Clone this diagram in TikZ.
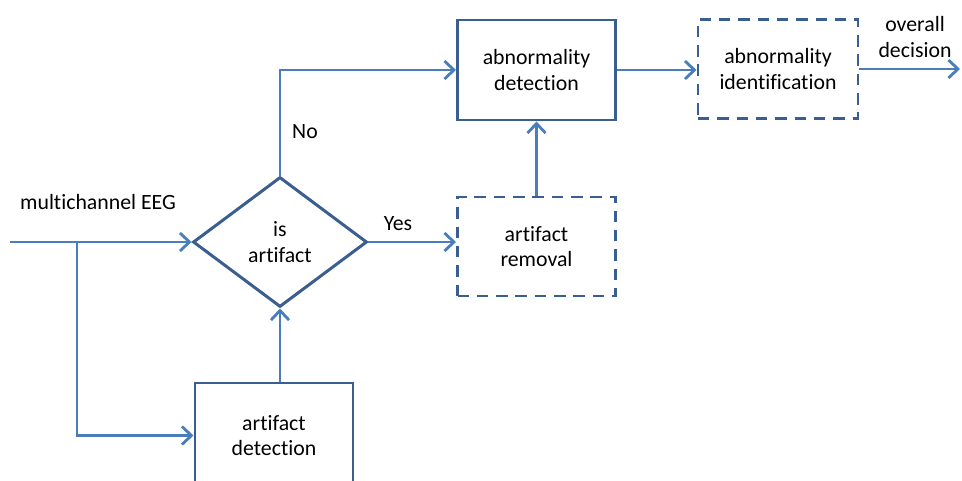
\documentclass[tikz,border=0pt]{standalone}
\usepackage{fontspec}
\setmainfont{Carlito}[Ligatures=NoCommon]
\usetikzlibrary{positioning,arrows.meta,calc,shapes.geometric}

\definecolor{boxline}{HTML}{3A5E8F}
\definecolor{flowline}{HTML}{4A7EBB}

\begin{document}
\begin{tikzpicture}[x=1cm,y=1cm, every node/.style={align=center, font=\fontsize{12.4pt}{14.6pt}\selectfont},
  box/.style={draw=boxline, line width=1.7pt, minimum width=3.16cm, minimum height=2cm, inner sep=0pt},
  dbox/.style={box, dash pattern=on 6.5pt off 4.5pt},
  decision/.style={draw=boxline, line width=1.7pt, diamond, aspect=1.34, minimum width=3.48cm, minimum height=2.6cm, inner sep=0pt},
  flow/.style={draw=flowline, line width=1.6pt, -{Straight Barb[length=1.9mm,width=3.6mm]}}]
  \useasboundingbox (0,0) rectangle (19.24,9.6);
  \clip (0,0) rectangle (19.24,9.6);
  % blocks
  \node[decision] (isart) at (5.6,4.76) {is\\artifact};
  \node[box, minimum height=2.1cm] (artdet) at (5.48,0.89) {artifact\\detection};
  \node[dbox, minimum height=1.98cm] (artrem) at (10.73,4.67) {artifact\\removal};
  \node[box] (abndet) at (10.73,8.2) {abnormality\\detection};
  \node[dbox, minimum width=3.2cm, minimum height=1.98cm] (abnid) at (15.56,8.22) {abnormality\\identification};
  \coordinate (eegin) at (0.2,4.76);
  \coordinate (split) at (1.54,4.76);
  \coordinate (decout) at (19.2,8.22);
  % labels
  \node (eeglbl) at (1.96,5.56) {multichannel EEG};
  \node (nolbl) at (6.1,6.96) {No};
  \node (yeslbl) at (7.96,5.12) {Yes};
  \node (outlbl) at (18.3,8.86) {overall\\decision};
  % connectors
  \draw[flow] (eegin) -- (isart.west);
  \draw[flow] (split) |- (artdet.west);
  \draw[flow] (isart.south |- artdet.north) -- (isart.south);
  \draw[flow] (isart.north) |- (abndet.west);
  \draw[flow] (isart.east) -- (artrem.west |- isart.east);
  \draw[flow] (artrem.north) -- (abndet.south);
  \draw[flow] (abndet.east) -- (abnid.west |- abndet.east);
  \draw[flow] (abnid.east) -- (decout);
\end{tikzpicture}
\end{document}
